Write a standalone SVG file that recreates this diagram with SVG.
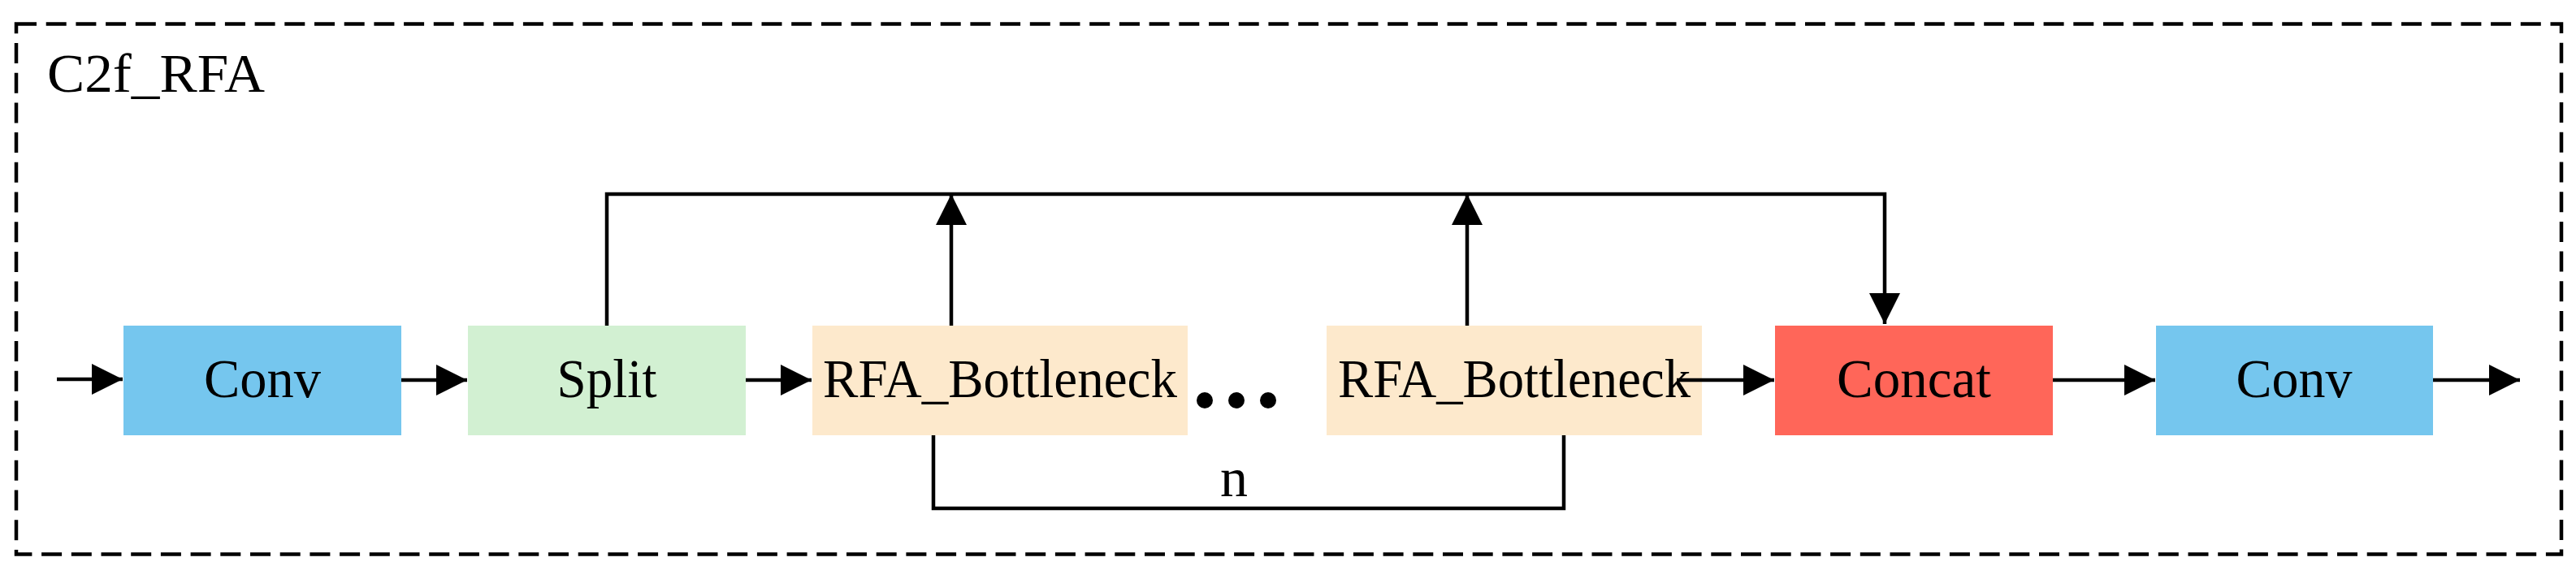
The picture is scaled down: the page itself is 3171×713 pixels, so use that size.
<svg xmlns="http://www.w3.org/2000/svg" width="3171" height="713" viewBox="0 0 3171 713">
<style>
.lbl{font-family:"Liberation Serif","Times New Roman",serif;font-size:68px;fill:#000;text-anchor:middle}
.title{font-family:"Liberation Serif","Times New Roman",serif;font-size:68px;fill:#000}
.ln{stroke:#000;stroke-width:4.5;fill:none}
</style>
<defs>
<marker id="ah" markerUnits="userSpaceOnUse" markerWidth="38" markerHeight="38" refX="38" refY="19" orient="auto">
<path d="M0,0 L38,19 L0,38 z" fill="#000"/>
</marker>
</defs>
<rect x="20" y="29.5" width="3133" height="653" fill="none" stroke="#000" stroke-width="4.5" stroke-dasharray="25 11.7"/>
<text class="title" x="58" y="113" textLength="268" lengthAdjust="spacingAndGlyphs">C2f_RFA</text>
<g id="conv1"><rect x="152" y="401" width="342" height="135" fill="#75C6EE"/><text class="lbl" x="323" y="489" textLength="144" lengthAdjust="spacingAndGlyphs">Conv</text></g>
<g id="split"><rect x="576" y="401" width="342" height="135" fill="#D2F0D2"/><text class="lbl" x="747" y="489" textLength="123" lengthAdjust="spacingAndGlyphs">Split</text></g>
<g id="rfa1"><rect x="1000" y="401" width="462" height="135" fill="#FDE9CC"/><text class="lbl" x="1231" y="489" textLength="436" lengthAdjust="spacingAndGlyphs">RFA_Bottleneck</text></g>
<g id="dots"><circle cx="1483" cy="493" r="10"/><circle cx="1522" cy="493" r="10"/><circle cx="1561" cy="493" r="10"/></g>
<g id="rfa2"><rect x="1633" y="401" width="462" height="135" fill="#FDE9CC"/><text class="lbl" x="1864" y="489" textLength="434" lengthAdjust="spacingAndGlyphs">RFA_Bottleneck</text></g>
<g id="concat"><rect x="2185" y="401" width="342" height="135" fill="#FF6659"/><text class="lbl" x="2356" y="489" textLength="190" lengthAdjust="spacingAndGlyphs">Concat</text></g>
<g id="conv2"><rect x="2654" y="401" width="341" height="135" fill="#75C6EE"/><text class="lbl" x="2824" y="489" textLength="143" lengthAdjust="spacingAndGlyphs">Conv</text></g>
<g id="connectors">
<line class="ln" x1="70" y1="467" x2="151" y2="467" marker-end="url(#ah)"/>
<line class="ln" x1="494" y1="468" x2="575" y2="468" marker-end="url(#ah)"/>
<line class="ln" x1="918" y1="468" x2="999" y2="468" marker-end="url(#ah)"/>
<line class="ln" x1="2064" y1="468" x2="2184" y2="468" marker-end="url(#ah)"/>
<line class="ln" x1="2527" y1="468" x2="2653" y2="468" marker-end="url(#ah)"/>
<line class="ln" x1="2995" y1="468" x2="3102" y2="468" marker-end="url(#ah)"/>
<polyline class="ln" points="747,401 747,239 2320,239 2320,399" marker-end="url(#ah)"/>
<line class="ln" x1="1171" y1="401" x2="1171" y2="239" marker-end="url(#ah)"/>
<line class="ln" x1="1806" y1="401" x2="1806" y2="239" marker-end="url(#ah)"/>
<polyline class="ln" points="1149,536 1149,626 1925,626 1925,536"/>
<text class="lbl" x="1519" y="611">n</text>
</g>
</svg>
